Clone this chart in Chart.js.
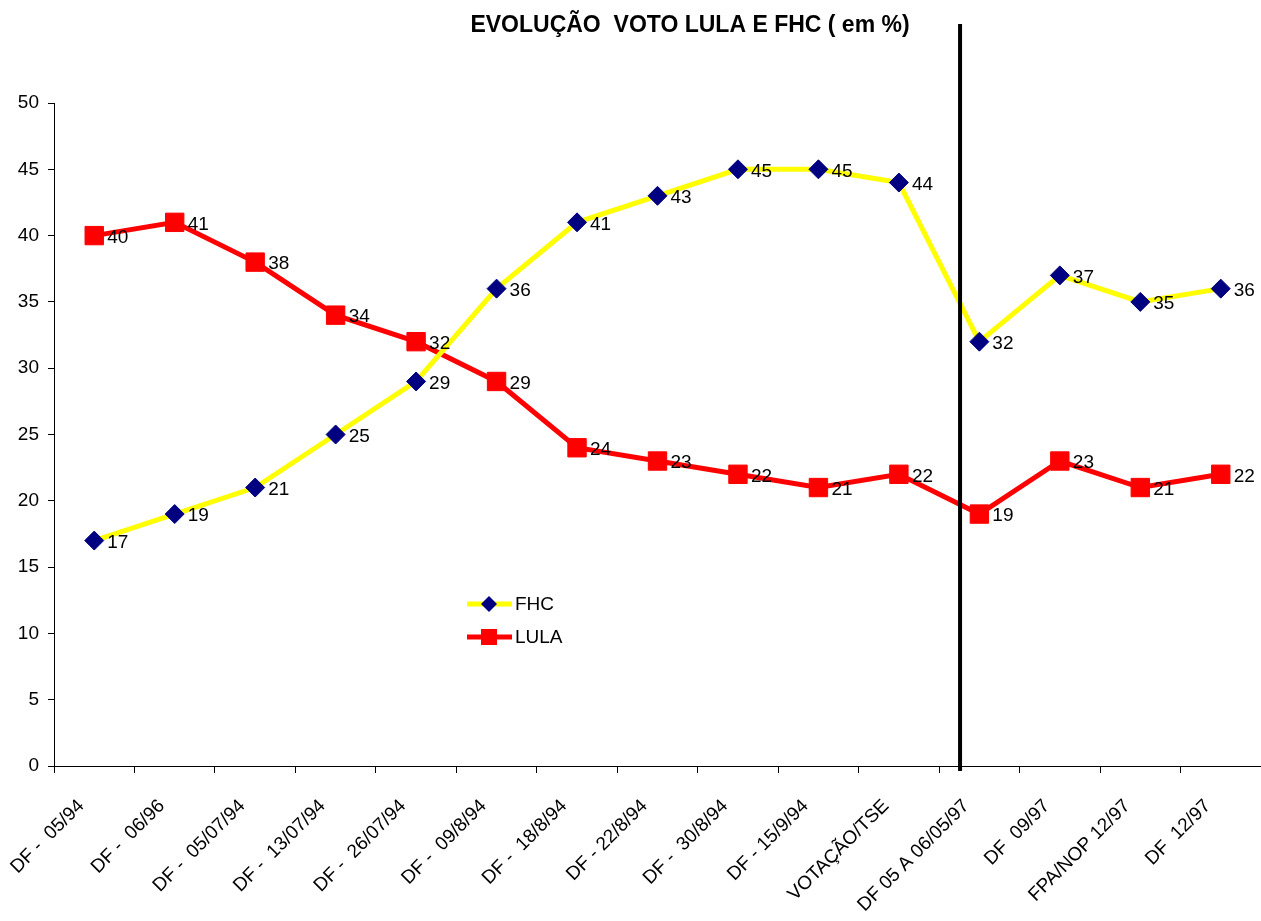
<!DOCTYPE html>
<html>
<head>
<meta charset="utf-8">
<script src="https://cdn.jsdelivr.net/npm/chart.js@4.4.1/dist/chart.umd.min.js"></script>
<style>
  html, body { margin: 0; padding: 0; background: #fff; overflow: hidden; }
  canvas { display: block; }
</style>
</head>
<body>
<canvas id="voteChart" width="1261" height="921"></canvas>
<script>
// data
const labels = ['DF -  05/94', 'DF -  06/96', 'DF -  05/07/94', 'DF -  13/07/94', 'DF -  26/07/94',
  'DF -  09/8/94', 'DF -  18/8/94', 'DF - 22/8/94', 'DF -  30/8/94', 'DF - 15/9/94',
  'VOTAÇÃO/TSE', 'DF 05 A 06/05/97', 'DF  09/97', 'FPA/NOP 12/97', 'DF  12/97'];
const fhc = [17, 19, 21, 25, 29, 36, 41, 43, 45, 45, 44, 32, 37, 35, 36];
const lula = [40, 41, 38, 34, 32, 29, 24, 23, 22, 21, 22, 19, 23, 21, 22];
const yTicks = [0, 5, 10, 15, 20, 25, 30, 35, 40, 45, 50];

const FONT = '"Liberation Sans", Arial, sans-serif';
const dividerAt = 10.76; // vertical marker between VOTAÇÃO/TSE and 1997 polls

// x labels, value labels, divider line, title and legend
const extras = {
  id: 'extras',
  afterDatasetsDraw(chart) {
    const ctx = chart.ctx;
    const x = chart.scales.x, y = chart.scales.y;
    ctx.save();
    ctx.fillStyle = '#000';

    // rotated category labels
    ctx.font = '19px ' + FONT;
    ctx.textAlign = 'right';
    ctx.textBaseline = 'middle';
    labels.forEach((lab, i) => {
      const px = x.getPixelForValue(i);
      ctx.save();
      ctx.translate(px - 13, y.bottom + 37);
      ctx.rotate(-Math.PI / 4);
      ctx.fillText(lab, 0, 0);
      ctx.restore();
    });

    // value labels
    ctx.textAlign = 'left';
    chart.data.datasets.forEach((ds, i) => {
      chart.getDatasetMeta(i).data.forEach((pt, j) => {
        ctx.fillText(String(ds.data[j]), pt.x + 13, pt.y + 2);
      });
    });

    // vertical divider
    const dx = x.getPixelForValue(dividerAt);
    ctx.strokeStyle = '#000';
    ctx.lineWidth = 4;
    ctx.beginPath();
    ctx.moveTo(dx, 24);
    ctx.lineTo(dx, y.bottom + 5);
    ctx.stroke();

    // title
    ctx.font = 'bold 23px ' + FONT;
    ctx.textAlign = 'center';
    ctx.fillText('EVOLUÇÃO  VOTO LULA E FHC ( em %)', 690, 26);

    // legend
    const items = [
      { text: 'FHC', color: '#FFFF00', fill: '#000080', shape: 'rectRot', y: 604 },
      { text: 'LULA', color: '#FF0000', fill: '#FF0000', shape: 'rect', y: 637 }
    ];
    items.forEach(it => {
      ctx.strokeStyle = it.color;
      ctx.lineWidth = 5;
      ctx.beginPath();
      ctx.moveTo(467, it.y);
      ctx.lineTo(512, it.y);
      ctx.stroke();
      ctx.fillStyle = it.fill;
      ctx.beginPath();
      if (it.shape === 'rectRot') {
        ctx.moveTo(489, it.y - 8); ctx.lineTo(497, it.y);
        ctx.lineTo(489, it.y + 8); ctx.lineTo(481, it.y);
        ctx.closePath();
      } else {
        ctx.rect(481, it.y - 8, 16, 16);
      }
      ctx.fill();
      ctx.fillStyle = '#000';
      ctx.font = '19px ' + FONT;
      ctx.textAlign = 'left';
      ctx.fillText(it.text, 515, it.y + 1);
    });
    ctx.restore();
  }
};

new Chart(document.getElementById('voteChart'), {
  type: 'line',
  data: {
    labels: labels,
    datasets: [
      {
        label: 'FHC',
        data: fhc,
        borderColor: '#FFFF00',
        borderWidth: 5,
        pointStyle: 'rectRot',
        pointRadius: 9.5,
        pointBackgroundColor: '#000080',
        pointBorderColor: '#000080',
        pointBorderWidth: 1,
        tension: 0
      },
      {
        label: 'LULA',
        data: lula,
        borderColor: '#FF0000',
        borderWidth: 5,
        pointStyle: 'rect',
        pointRadius: 13,
        pointBackgroundColor: '#FF0000',
        pointBorderColor: '#FF0000',
        pointBorderWidth: 1,
        tension: 0
      }
    ]
  },
  options: {
    responsive: false,
    animation: false,
    devicePixelRatio: 1,
    layout: { autoPadding: false, padding: { top: 103, right: -4, left: 0, bottom: 0 } },
    plugins: {
      legend: { display: false },
      tooltip: { enabled: false }
    },
    scales: {
      x: {
        offset: true,
        afterFit(s) { s.height = 155; s.paddingLeft = 0; s.paddingRight = 0; },
        grid: { offset: true, drawOnChartArea: false, tickLength: 7, color: '#000' },
        border: { color: '#000', width: 1 },
        ticks: { display: false, autoSkip: false }
      },
      y: {
        min: 0,
        max: 50,
        afterFit(s) { s.width = 54; },
        afterBuildTicks(s) { s.ticks = yTicks.map(v => ({ value: v })); },
        grid: { drawOnChartArea: false, tickLength: 6, color: '#000' },
        border: { color: '#000', width: 1 },
        ticks: {
          color: '#000',
          font: { family: FONT, size: 19 },
          padding: 9
        }
      }
    }
  },
  plugins: [extras]
});
</script>
</body>
</html>
